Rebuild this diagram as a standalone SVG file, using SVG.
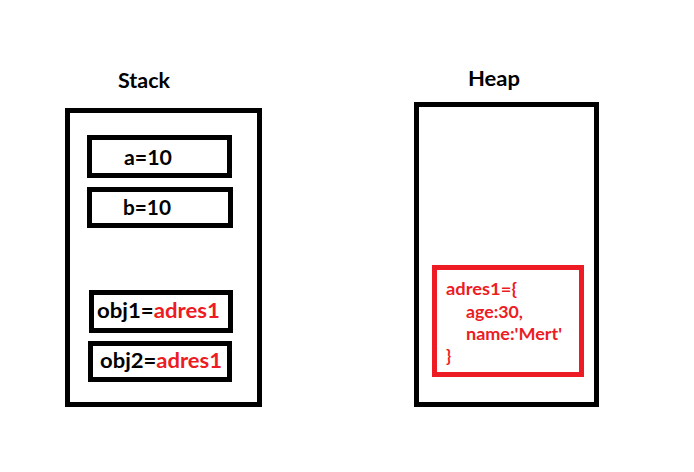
<svg xmlns="http://www.w3.org/2000/svg" width="694" height="472" viewBox="0 0 694 472">
<style>
.box{fill:none;stroke:#000;stroke-width:5}
.rbox{fill:none;stroke:#ED1C24;stroke-width:5}
text{font-family:Lato,"Liberation Sans",sans-serif;font-weight:bold;fill:#000}
.t{font-size:20px}
.r{fill:#ED1C24}
.h{font-size:17px;fill:#ED1C24}
</style>
<rect width="694" height="472" fill="#fff"/>
<g id="stack">
<text class="t" x="118" y="88" textLength="52" lengthAdjust="spacingAndGlyphs">Stack</text>
<rect class="box" x="67.5" y="110.5" width="192" height="294"/>
</g>
<g id="a">
<rect class="box" x="89.5" y="137.5" width="140" height="38"/>
<text class="t" x="124" y="165" textLength="48" lengthAdjust="spacingAndGlyphs">a=10</text>
</g>
<g id="b">
<rect class="box" x="89.5" y="189.5" width="141" height="36"/>
<text class="t" x="123" y="215" textLength="48" lengthAdjust="spacingAndGlyphs">b=10</text>
</g>
<g id="obj1">
<rect class="box" x="91.5" y="292.5" width="139" height="38"/>
<text class="t" x="97" y="318" textLength="123" lengthAdjust="spacingAndGlyphs">obj1=<tspan class="r">adres1</tspan></text>
</g>
<g id="obj2">
<rect class="box" x="90.5" y="343.5" width="139" height="36"/>
<text class="t" x="100" y="368" textLength="122" lengthAdjust="spacingAndGlyphs">obj2=<tspan class="r">adres1</tspan></text>
</g>
<g id="heap">
<text class="t" x="468" y="86" textLength="52" lengthAdjust="spacingAndGlyphs">Heap</text>
<rect class="box" x="416.5" y="104.5" width="180" height="300"/>
</g>
<g id="adres1">
<rect class="rbox" x="434.5" y="267.5" width="147" height="107"/>
<text class="h" x="446" y="295" textLength="71" lengthAdjust="spacingAndGlyphs">adres1={</text>
<text class="h" x="466" y="318" textLength="57" lengthAdjust="spacingAndGlyphs">age:30,</text>
<text class="h" x="466" y="340" textLength="96" lengthAdjust="spacingAndGlyphs">name:'Mert'</text>
<text class="h" x="446" y="362">}</text>
</g>
<g id="connectors"/>
</svg>
